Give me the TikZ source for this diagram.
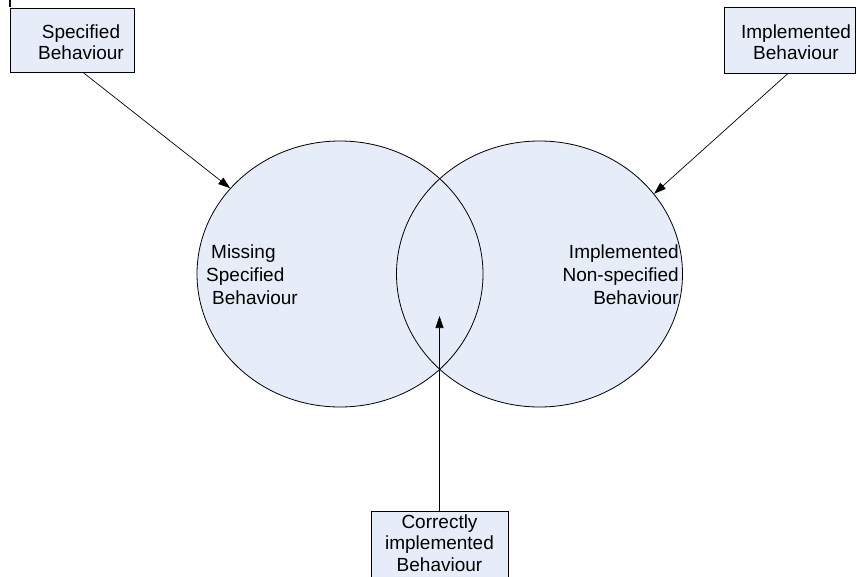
\documentclass[tikz,border=0pt]{standalone}
\usepackage{fontspec}
\setmainfont{Liberation Sans}
\usetikzlibrary{shapes.geometric,arrows.meta}
\definecolor{fillc}{RGB}{230,236,248}
\begin{document}
\begin{tikzpicture}[x=1pt,y=-1pt,
  lbl/.style={font=\fontsize{19}{23}\selectfont, inner sep=0pt},
  box/.style={draw=black, fill=fillc, line width=0.8pt, inner sep=0pt},
  boxtext/.style={font=\fontsize{19}{21}\selectfont, align=center, inner sep=0pt},
  setring/.style={draw=black, ellipse, line width=0.8pt, inner sep=0pt, minimum width=286pt, minimum height=266pt},
  arr/.style={-{Triangle[length=12pt,width=8pt]}, line width=0.7pt}]
\useasboundingbox (0,0) rectangle (857,576);
% fills
\fill[fillc] (340,274) ellipse [x radius=143, y radius=133];
\fill[fillc] (539.5,274) ellipse [x radius=143, y radius=133];
% outlines
\node[setring] (le) at (340,274) {};
\node[setring] (re) at (539.5,274) {};
% labels in the sets
\node[lbl, anchor=west, align=left] (lt) at (206,275) {\hspace*{5pt}Missing\\Specified\\\hspace*{6pt}Behaviour};
\node[lbl, anchor=east, align=right] (rt) at (679,275) {Implemented\\Non-specified\\Behaviour};
% boxes
\node[box, minimum width=124pt, minimum height=64pt] (sb) at (72.5,40) {};
\node[boxtext] (sbt) at (81,42) {Specified\\Behaviour};
\node[box, minimum width=131pt, minimum height=66pt] (ib) at (789.5,40) {};
\node[boxtext] (ibt) at (796,42) {Implemented\\Behaviour};
\node[box, minimum width=137pt, minimum height=70pt, anchor=north] (cb) at (439.5,511) {};
\node[boxtext, font=\fontsize{19}{21.5}\selectfont] (cbt) at (439.5,543) {Correctly\\implemented\\Behaviour};
% small fragment at top left
\draw[line width=1.5pt] (10,0) -- (10,7);
% arrows
\coordinate (ci) at (439.5,316);
\draw[arr] ([xshift=10.5pt]sb.south) -- (le.142);
\draw[arr] ([xshift=-1.5pt]ib.south) -- (re.35);
\draw[arr] (cb.north) -- (ci);
\end{tikzpicture}
\end{document}
